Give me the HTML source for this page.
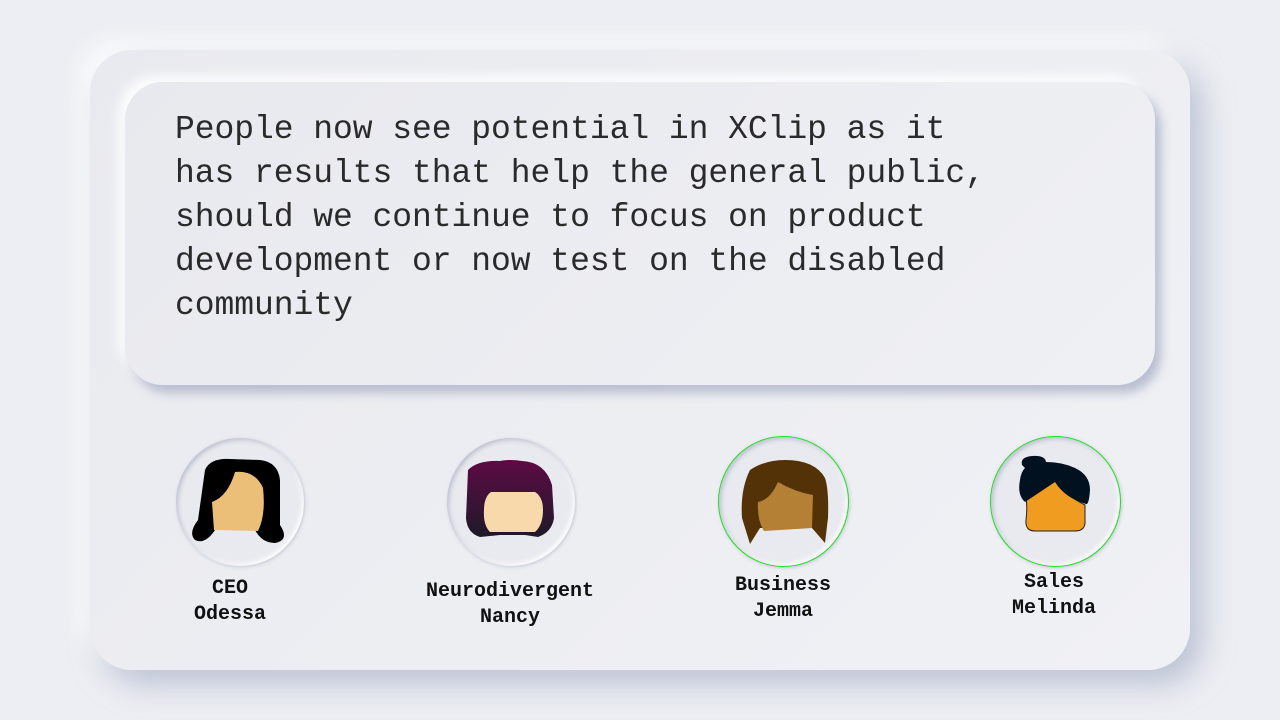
<!DOCTYPE html>
<html><head><meta charset="utf-8"><style>
body{margin:0;width:1280px;height:720px;background:#eceef3;overflow:hidden;position:relative;font-family:"Liberation Mono",monospace}
.card{position:absolute;left:90px;top:50px;width:1100px;height:620px;border-radius:42px;background:linear-gradient(135deg,#e9eaef,#f0f1f5);box-shadow:12px 14px 30px rgba(150,158,185,.55),-10px -10px 24px rgba(255,255,255,.9)}
.q{position:absolute;left:125px;top:82px;width:1030px;height:303px;border-radius:38px;background:linear-gradient(135deg,#e8e9ee,#eff0f4);box-shadow:6px 8px 10px rgba(150,158,185,.6),-6px -6px 12px rgba(255,255,255,.95)}
.t{position:absolute;left:175px;top:108px;font-size:33px;line-height:44px;color:#2a2a2a;white-space:pre;letter-spacing:-0.05px}
.c{position:absolute;width:128px;height:128px;border-radius:50%;background:#e9eaef;box-shadow:inset 2px 2px 4px rgba(160,165,190,.6),inset -2px -2px 4px #fff, 1px 1px 3px rgba(160,165,190,.5)}
.g{border:1.5px solid #22e022;width:129px;height:129px}
.l{position:absolute;font-weight:bold;font-size:20px;line-height:26px;text-align:center;width:240px;color:#111}
svg{position:absolute;left:0;top:0}
</style></head><body>
<div class="card"></div>
<div class="q"></div>
<div class="t">People now see potential in XClip as it
has results that help the general public,
should we continue to focus on product
development or now test on the disabled
community</div>
<div class="c" style="left:176px;top:438px"></div>
<div class="c" style="left:447px;top:438px"></div>
<div class="c g" style="left:718px;top:436px"></div>
<div class="c g" style="left:990px;top:436px"></div>
<svg width="1280" height="720">
<defs>
<linearGradient id="np" x1="0" y1="0" x2="0" y2="1"><stop offset="0" stop-color="#5e0a45"/><stop offset="1" stop-color="#1d1a28"/></linearGradient>
</defs>
<path d="M205 470 Q210 458 230 459 L260 460 Q278 462 280 480 L280 525 Q290 540 275 543 Q262 543 255 530 L215 530 Q205 545 195 540 Q188 533 198 520 Z" fill="#000"/>
<path d="M235 472 Q255 470 263 488 Q266 515 258 531 L214 530 L212 502 Q228 496 235 472Z" fill="#ecbf78"/>
<path d="M468 470 Q478 460 500 461 Q510 459 522 461 Q545 462 552 485 L554 518 Q552 532 538 537 L525 535 L500 535 L480 537 Q467 533 466 518 Z" fill="url(#np)"/>
<path d="M491 492 L535 492 Q543 497 543 510 Q543 525 535 532 L490 532 Q483 525 484 510 Q484 497 491 492Z" fill="#f7d9ab"/>
<path d="M750 470 Q765 460 785 460 Q815 460 825 478 Q829 490 828 518 L825 543 L812 528 L760 528 L750 544 L742 518 Q740 490 750 470Z" fill="#543208"/>
<path d="M778 482 Q795 492 813 495 L812 528 L764 531 Q757 520 758 502 Q770 500 778 482Z" fill="#b38036"/>
<path d="M1025 490 Q1028 505 1026 520 Q1025 531 1035 531 L1075 531 Q1086 531 1085 520 L1085 505 Q1065 495 1055 480 Q1040 485 1025 490Z" fill="#ef9c21" stroke="#222" stroke-width="1"/>
<path d="M1022 465 Q1020 457 1032 456 Q1045 455 1046 462 Q1062 462 1075 468 Q1090 475 1090 490 Q1089 505 1086 504 Q1065 498 1055 482 Q1040 492 1025 502 Q1017 495 1020 480 Q1021 472 1025 468Z" fill="#021120"/>
</svg>
<div class="l" style="left:110px;top:576px">CEO<br>Odessa</div>
<div class="l" style="left:390px;top:579px">Neurodivergent<br>Nancy</div>
<div class="l" style="left:663px;top:573px">Business<br>Jemma</div>
<div class="l" style="left:934px;top:570px">Sales<br>Melinda</div>
</body></html>
